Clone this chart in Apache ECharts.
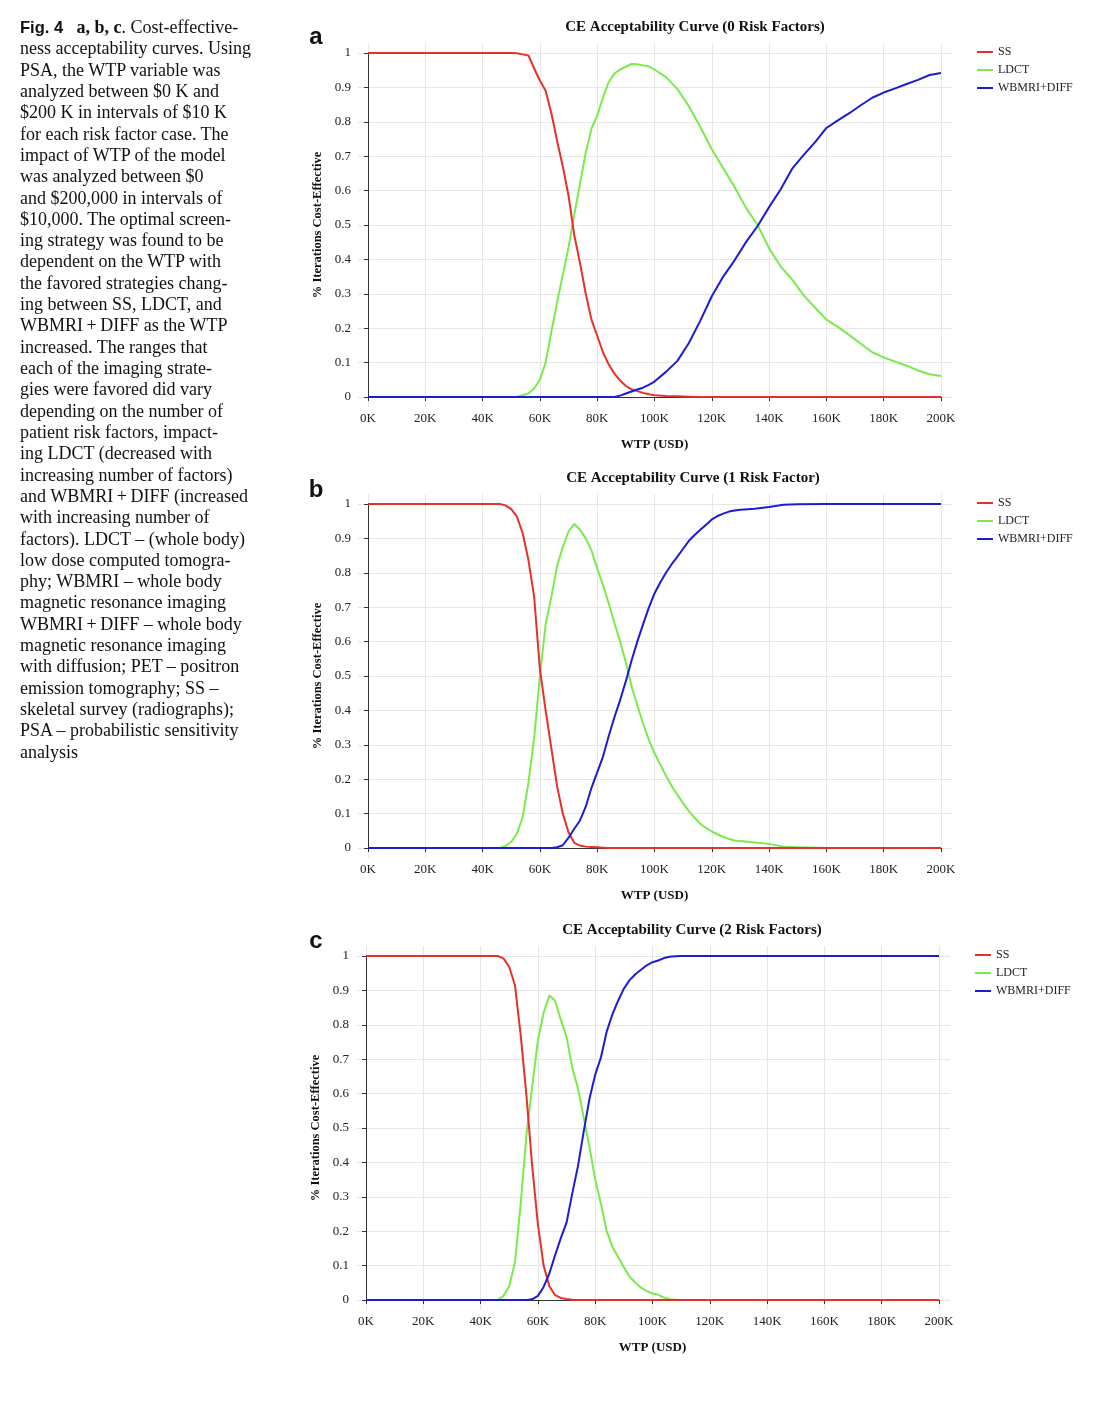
<!DOCTYPE html>
<html><head><meta charset="utf-8">
<script src="https://cdn.jsdelivr.net/npm/echarts@6/dist/echarts.min.js"></script>
<style>
html,body{margin:0;padding:0;background:#fff;}
#chart{position:absolute;left:0;top:0;width:1108px;height:1406px;}
#caption{position:absolute;left:20px;top:17px;font-family:"Liberation Serif",serif;font-size:18px;line-height:21.32px;color:#111;white-space:nowrap;z-index:2;}
#caption .fig{font-family:"Liberation Sans",Arial,sans-serif;font-weight:bold;font-size:16.5px;}
</style></head><body>
<div id="chart"></div>
<div id="caption"><span class="fig">Fig. 4</span>&nbsp;&nbsp; <b>a, b, c</b>. Cost-effective-<br>ness acceptability curves. Using<br>PSA, the WTP variable was<br>analyzed between $0 K and<br>$200 K in intervals of $10 K<br>for each risk factor case. The<br>impact of WTP of the model<br>was analyzed between $0<br>and $200,000 in intervals of<br>$10,000. The optimal screen-<br>ing strategy was found to be<br>dependent on the WTP with<br>the favored strategies chang-<br>ing between SS, LDCT, and<br>WBMRI&thinsp;+&thinsp;DIFF as the WTP<br>increased. The ranges that<br>each of the imaging strate-<br>gies were favored did vary<br>depending on the number of<br>patient risk factors, impact-<br>ing LDCT (decreased with<br>increasing number of factors)<br>and WBMRI&thinsp;+&thinsp;DIFF (increased<br>with increasing number of<br>factors). LDCT – (whole body)<br>low dose computed tomogra-<br>phy; WBMRI – whole body<br>magnetic resonance imaging<br>WBMRI&thinsp;+&thinsp;DIFF – whole body<br>magnetic resonance imaging<br>with diffusion; PET – positron<br>emission tomography; SS –<br>skeletal survey (radiographs);<br>PSA – probabilistic sensitivity<br>analysis</div>
<script>
// ---- Data (WTP in thousands USD) ----
const seriesNames = ['SS', 'LDCT', 'WBMRI+DIFF'];
const titles = ['CE Acceptability Curve (0 Risk Factors)', 'CE Acceptability Curve (1 Risk Factor)', 'CE Acceptability Curve (2 Risk Factors)'];
const panelLetters = ['a', 'b', 'c'];
const xTicks = [0, 20, 40, 60, 80, 100, 120, 140, 160, 180, 200];
const yTicks = [0, 0.1, 0.2, 0.3, 0.4, 0.5, 0.6, 0.7, 0.8, 0.9, 1];

// Panel a: 0 risk factors
const wtpA = [0,10,20,30,40,50,52,54,56,58,60,62,64,66,68,70,72,74,76,78,80,82,84,86,88,90,92,94,96,98,100,104,108,112,116,120,124,128,132,136,140,144,148,152,156,160,164,168,172,176,180,184,188,192,196,200];
const ssA = [1,1,1,1,1,1,0.999,0.996,0.993,0.955,0.92,0.89,0.825,0.745,0.67,0.585,0.47,0.39,0.30,0.225,0.178,0.13,0.095,0.068,0.048,0.032,0.022,0.017,0.012,0.008,0.005,0.003,0.002,0.001,0,0,0,0,0,0,0,0,0,0,0,0,0,0,0,0,0,0,0,0,0,0];
const ldctA = [0,0,0,0,0,0,0.001,0.005,0.01,0.025,0.05,0.1,0.19,0.275,0.355,0.435,0.53,0.62,0.71,0.78,0.818,0.87,0.915,0.94,0.952,0.96,0.968,0.967,0.964,0.961,0.952,0.93,0.895,0.845,0.785,0.72,0.665,0.61,0.549,0.5,0.432,0.38,0.342,0.296,0.26,0.225,0.204,0.18,0.155,0.13,0.115,0.103,0.091,0.077,0.066,0.061];
const wbmriA = [0,0,0,0,0,0,0,0,0,0,0,0,0,0,0,0,0,0,0,0,0,0,0,0,0.004,0.01,0.016,0.022,0.027,0.035,0.045,0.073,0.105,0.157,0.222,0.293,0.35,0.398,0.451,0.497,0.552,0.603,0.663,0.703,0.74,0.782,0.804,0.825,0.848,0.87,0.885,0.897,0.91,0.922,0.936,0.942];

// Panel b: 1 risk factor
const wtpB = [0,10,20,30,40,42,44,46,48,50,52,54,56,58,60,62,64,66,68,70,72,74,76,78,80,82,84,86,88,90,92,94,96,98,100,102,104,106,108,110,112,114,116,118,120,122,124,126,128,130,135,140,145,150,160,170,180,190,200];
const ssB = [1,1,1,1,1,1,1,1,0.996,0.985,0.963,0.915,0.837,0.73,0.52,0.40,0.29,0.18,0.1,0.045,0.015,0.007,0.004,0.003,0.002,0.001,0,0,0,0,0,0,0,0,0,0,0,0,0,0,0,0,0,0,0,0,0,0,0,0,0,0,0,0,0,0,0,0,0];
const ldctB = [0,0,0,0,0,0,0,0,0.005,0.018,0.042,0.09,0.19,0.32,0.5,0.65,0.73,0.82,0.875,0.92,0.942,0.925,0.9,0.865,0.813,0.765,0.712,0.655,0.6,0.54,0.47,0.415,0.362,0.315,0.276,0.243,0.21,0.18,0.155,0.13,0.107,0.088,0.07,0.058,0.048,0.04,0.032,0.026,0.022,0.02,0.016,0.012,0.004,0.002,0,0,0,0,0];
const wbmriB = [0,0,0,0,0,0,0,0,0,0,0,0,0,0,0,0,0,0.002,0.008,0.03,0.056,0.08,0.12,0.175,0.22,0.265,0.325,0.38,0.43,0.485,0.545,0.6,0.65,0.698,0.74,0.772,0.8,0.825,0.847,0.87,0.893,0.91,0.925,0.94,0.955,0.965,0.972,0.978,0.981,0.983,0.986,0.991,0.998,0.999,1,1,1,1,1];

// Panel c: 2 risk factors
const wtpC = [0,10,20,30,40,42,44,46,48,50,52,54,56,58,60,62,64,66,68,70,72,74,76,78,80,82,84,86,88,90,92,94,96,98,100,102,104,106,108,110,115,120,130,140,150,160,170,180,190,200];
const ssC = [1,1,1,1,1,1,1,1,0.993,0.968,0.915,0.77,0.595,0.39,0.22,0.1,0.04,0.014,0.006,0.003,0.001,0,0,0,0,0,0,0,0,0,0,0,0,0,0,0,0,0,0,0,0,0,0,0,0,0,0,0,0,0];
const ldctC = [0,0,0,0,0,0,0,0,0.012,0.04,0.11,0.28,0.48,0.62,0.755,0.835,0.885,0.87,0.815,0.765,0.675,0.615,0.53,0.445,0.35,0.28,0.2,0.155,0.125,0.095,0.068,0.05,0.036,0.026,0.019,0.015,0.007,0.002,0.001,0,0,0,0,0,0,0,0,0,0,0];
const wbmriC = [0,0,0,0,0,0,0,0,0,0,0,0,0,0.002,0.012,0.038,0.077,0.13,0.18,0.225,0.31,0.39,0.49,0.585,0.655,0.705,0.78,0.83,0.87,0.905,0.93,0.947,0.96,0.973,0.982,0.987,0.994,0.998,0.999,1,1,1,1,1,1,1,1,1,1,1];

// ---- Layout / style ----
const FONT = '"Liberation Serif", "Times New Roman", serif';
const colors = ['#e63127', '#7aea4c', '#1c1cd2'];
const panels = [
  {x: wtpA, ys: [ssA, ldctA, wbmriA], left: 368, top: 53, titleX: 695, titleY: 27, letterY: 37},
  {x: wtpB, ys: [ssB, ldctB, wbmriB], left: 368, top: 504, titleX: 693, titleY: 478, letterY: 490},
  {x: wtpC, ys: [ssC, ldctC, wbmriC], left: 366, top: 956, titleX: 692, titleY: 930, letterY: 941}
];
const W = 573, H = 344;
// gridlines extend past the data range (to the offset axis lines)
const PADL = 10, PADR = 11, PADT = 10, PADB = 10;
const xMinExt = -PADL * 200 / W, xMaxExt = 200 + PADR * 200 / W;
const yMinExt = -PADB / H, yMaxExt = 1 + PADT / H;

const zip = (xs, ys) => xs.map((v, i) => [v, ys[i]]);

const dataGrids = panels.map(p => ({left: p.left, top: p.top, width: W, height: H}));
const bgGrids = panels.map(p => ({left: p.left - PADL, top: p.top - PADT, width: W + PADL + PADR, height: H + PADT + PADB}));

const option = {
  animation: false,
  backgroundColor: '#fff',
  grid: dataGrids.concat(bgGrids),
  xAxis: panels.map((p, i) => ({
    gridIndex: i, type: 'value', min: 0, max: 200, interval: 20, offset: 10,
    name: 'WTP (USD)', nameLocation: 'middle', nameGap: 31,
    nameTextStyle: {fontFamily: FONT, fontWeight: 'bold', fontSize: 13, color: '#111'},
    axisLine: {show: true, lineStyle: {color: '#333', width: 1}},
    axisTick: {show: true, length: 4, lineStyle: {color: '#333'}},
    axisLabel: {formatter: v => v + 'K', fontFamily: FONT, fontSize: 13, color: '#222', margin: 5},
    splitLine: {show: false}
  })).concat(panels.map((p, i) => ({
    gridIndex: 3 + i, type: 'value', min: xMinExt, max: xMaxExt,
    axisLine: {show: false}, axisLabel: {show: false},
    axisTick: {show: false, customValues: xTicks},
    splitLine: {show: true, lineStyle: {color: '#e6e6e6', width: 1}}
  }))),
  yAxis: panels.map((p, i) => ({
    gridIndex: i, type: 'value', min: 0, max: 1, interval: 0.1, offset: 10,
    name: '% Iterations Cost-Effective', nameLocation: 'middle', nameGap: 32,
    nameTextStyle: {fontFamily: FONT, fontWeight: 'bold', fontSize: 12.5, color: '#111'},
    axisLine: {show: true, lineStyle: {color: '#333', width: 1}},
    axisTick: {show: true, length: 4, lineStyle: {color: '#333'}},
    axisLabel: {formatter: v => String(Math.round(v * 10) / 10), fontFamily: FONT, fontSize: 13, color: '#222', margin: 7},
    splitLine: {show: false}
  })).concat(panels.map((p, i) => ({
    gridIndex: 3 + i, type: 'value', min: yMinExt, max: yMaxExt,
    axisLine: {show: false}, axisLabel: {show: false},
    axisTick: {show: false, customValues: yTicks},
    splitLine: {show: true, lineStyle: {color: '#e6e6e6', width: 1}}
  }))),
  legend: panels.map(p => ({
    orient: 'vertical', left: p.left + 604, top: p.top - 13,
    data: seriesNames, icon: 'rect', itemWidth: 16, itemHeight: 2, itemGap: 4,
    textStyle: {fontFamily: FONT, fontSize: 12, color: '#222', lineHeight: 14}
  })),
  graphic: panels.flatMap((p, i) => [
    {type: 'text', x: p.titleX, y: p.titleY, style: {text: titles[i], font: 'bold 15px ' + FONT, fill: '#111', textAlign: 'center', textVerticalAlign: 'middle'}},
    {type: 'text', x: 316, y: p.letterY, style: {text: panelLetters[i], font: 'bold 24px "Liberation Sans", Arial, sans-serif', fill: '#111', textAlign: 'center', textVerticalAlign: 'middle'}}
  ]),
  series: panels.flatMap((p, i) => seriesNames.map((name, k) => ({
    name, type: 'line', xAxisIndex: i, yAxisIndex: i,
    data: zip(p.x, p.ys[k]), showSymbol: false, symbol: 'none', smooth: false,
    lineStyle: {width: 2, color: colors[k]}, itemStyle: {color: colors[k]},
    z: 3 + (k === 1 ? 0 : k === 0 ? 1 : 2)
  })))
};

const chart = echarts.init(document.getElementById('chart'), null, {renderer: 'canvas'});
chart.setOption(option);
</script></body></html>
